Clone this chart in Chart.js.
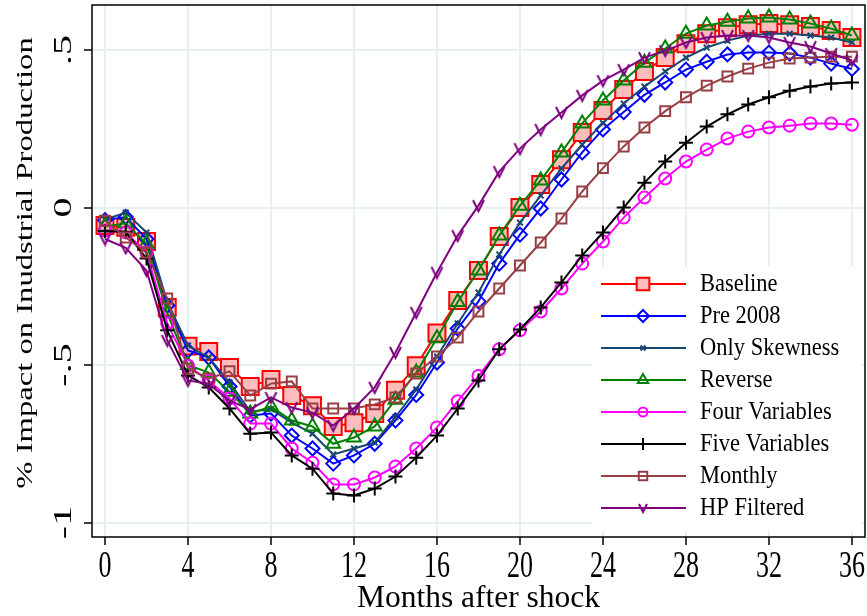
<!DOCTYPE html>
<html><head><meta charset="utf-8">
<script src="https://cdn.jsdelivr.net/npm/chart.js@4/dist/chart.umd.min.js"></script>
<style>html,body{margin:0;padding:0;background:#fff}canvas{display:block}</style>
</head><body>
<canvas id="c" width="867" height="616"></canvas>
<script>
const months = [0,1,2,3,4,5,6,7,8,9,10,11,12,13,14,15,16,17,18,19,20,21,22,23,24,25,26,27,28,29,30,31,32,33,34,35,36];
const xTickValues = [0,4,8,12,16,20,24,28,32,36];
const xTickLabels = ["0","4","8","12","16","20","24","28","32","36"];
const yTickValues = [-1,-0.5,0,0.5];
const yTickLabels = ["-1","-.5","0",".5"];
const xTitle = "Months after shock";
const yTitle = "% Impact on Inudstrial Production";
const seriesNames = ["Baseline","Pre 2008","Only Skewness","Reverse","Four Variables","Five Variables","Monthly","HP Filtered"];

const baseline = [-0.057,-0.063,-0.108,-0.317,-0.44,-0.457,-0.508,-0.568,-0.546,-0.597,-0.629,-0.695,-0.683,-0.654,-0.58,-0.502,-0.398,-0.295,-0.2,-0.092,0.0,0.073,0.152,0.238,0.308,0.375,0.432,0.476,0.52,0.552,0.571,0.58,0.584,0.58,0.575,0.562,0.54];
const pre2008 = [-0.04,-0.03,-0.1,-0.311,-0.454,-0.476,-0.568,-0.66,-0.654,-0.724,-0.765,-0.813,-0.787,-0.75,-0.676,-0.595,-0.492,-0.384,-0.298,-0.178,-0.086,-0.003,0.089,0.175,0.248,0.303,0.358,0.397,0.438,0.463,0.486,0.492,0.492,0.489,0.476,0.457,0.44];
const onlySkewness = [-0.038,-0.016,-0.079,-0.3,-0.438,-0.476,-0.555,-0.648,-0.64,-0.683,-0.718,-0.784,-0.765,-0.746,-0.665,-0.578,-0.473,-0.368,-0.27,-0.149,-0.048,0.038,0.124,0.2,0.268,0.33,0.384,0.432,0.476,0.508,0.53,0.546,0.552,0.552,0.546,0.54,0.524];
const reverse = [-0.06,-0.05,-0.115,-0.335,-0.5,-0.524,-0.585,-0.654,-0.632,-0.676,-0.695,-0.75,-0.73,-0.695,-0.61,-0.524,-0.415,-0.3,-0.2,-0.089,0.006,0.086,0.175,0.267,0.34,0.403,0.46,0.505,0.552,0.578,0.59,0.6,0.603,0.597,0.584,0.568,0.546];
const fourVariables = [-0.073,-0.079,-0.143,-0.368,-0.502,-0.55,-0.606,-0.686,-0.686,-0.765,-0.81,-0.879,-0.879,-0.857,-0.822,-0.765,-0.698,-0.615,-0.535,-0.45,-0.39,-0.33,-0.257,-0.178,-0.108,-0.032,0.032,0.092,0.146,0.184,0.219,0.241,0.254,0.26,0.267,0.267,0.263];
const fiveVariables = [-0.075,-0.077,-0.162,-0.39,-0.533,-0.571,-0.638,-0.718,-0.714,-0.787,-0.829,-0.908,-0.914,-0.892,-0.854,-0.794,-0.724,-0.638,-0.549,-0.45,-0.387,-0.317,-0.238,-0.152,-0.079,0.0,0.079,0.146,0.206,0.257,0.296,0.327,0.35,0.371,0.384,0.394,0.397];
const monthly = [-0.042,-0.095,-0.143,-0.289,-0.511,-0.543,-0.52,-0.597,-0.559,-0.552,-0.638,-0.638,-0.638,-0.625,-0.603,-0.527,-0.473,-0.413,-0.33,-0.257,-0.184,-0.111,-0.035,0.051,0.125,0.194,0.254,0.306,0.35,0.387,0.416,0.441,0.46,0.473,0.476,0.479,0.479];
const hpFiltered = [-0.1,-0.128,-0.2,-0.422,-0.549,-0.56,-0.613,-0.641,-0.603,-0.635,-0.651,-0.692,-0.638,-0.571,-0.46,-0.333,-0.206,-0.089,0.006,0.114,0.187,0.248,0.302,0.356,0.403,0.438,0.476,0.498,0.524,0.54,0.546,0.546,0.54,0.524,0.511,0.489,0.467];

const FONT = '"Liberation Serif", "Times New Roman", serif';

function makeV(size, color, lw) {
  const c = document.createElement('canvas');
  c.width = size; c.height = size;
  const g = c.getContext('2d');
  g.strokeStyle = color; g.lineWidth = lw; g.lineJoin = 'miter';
  g.beginPath();
  g.moveTo(lw, lw);
  g.lineTo(size / 2, size - lw);
  g.lineTo(size - lw, lw);
  g.stroke();
  return c;
}
const vPlot = makeV(15, '#800080', 2);
const vLegend = makeV(12, '#800080', 2);

const styles = [
  {data: baseline, color:'#ff0000', fill:'#ffbcbc', ps:'rect', r:12, lr:9, bw:2},
  {data: pre2008, color:'#0000ff', fill:'rgba(0,0,0,0)', ps:'rectRot', r:7, lr:6, bw:2},
  {data: onlySkewness, color:'#1a476f', fill:'rgba(0,0,0,0)', ps:'crossRot', r:4, lr:3.5, bw:2},
  {data: reverse, color:'#008000', fill:'rgba(0,0,0,0)', ps:'triangle', r:8, lr:6, bw:2},
  {data: fourVariables, color:'#ff00ff', fill:'rgba(0,0,0,0)', ps:'circle', r:6, lr:4.5, bw:2},
  {data: fiveVariables, color:'#000000', fill:'rgba(0,0,0,0)', ps:'cross', r:7, lr:6, bw:2},
  {data: monthly, color:'#983f45', fill:'rgba(0,0,0,0)', ps:'rect', r:7, lr:6, bw:2},
  {data: hpFiltered, color:'#800080', fill:'rgba(0,0,0,0)', ps:vPlot, legendPs:vLegend, r:7, lr:6, bw:2}
];

const datasets = styles.map((s, i) => ({
  label: seriesNames[i],
  data: months.map((m, k) => ({x: m, y: s.data[k]})),
  borderColor: s.color,
  backgroundColor: s.fill,
  pointStyle: s.ps,
  pointRadius: s.r,
  pointBorderColor: s.color,
  pointBackgroundColor: s.fill,
  pointBorderWidth: s.bw,
  borderWidth: 2,
  tension: 0,
  fill: false,
  order: styles.length - 1 - i
}));

function txt(ctx, s, x, y, size, vs, align, base, rot) {
  ctx.save();
  ctx.translate(x, y);
  ctx.scale(1, vs);
  if (rot) ctx.rotate(rot);
  ctx.font = size + 'px ' + FONT;
  ctx.textAlign = align || 'center';
  ctx.textBaseline = base || 'middle';
  ctx.fillStyle = '#000';
  ctx.fillText(s, 0, 0);
  ctx.restore();
}

function marker(ctx, ps, x, y, r, color, fill, lw) {
  if (ps instanceof HTMLCanvasElement) {
    ctx.drawImage(ps, x - ps.width / 2, y - ps.height / 2);
    return;
  }
  ctx.save();
  ctx.strokeStyle = color; ctx.fillStyle = fill; ctx.lineWidth = lw;
  ctx.beginPath();
  if (ps === 'rect') {
    const h = r * Math.SQRT1_2;
    ctx.rect(x - h, y - h, 2 * h, 2 * h);
  } else if (ps === 'rectRot') {
    ctx.moveTo(x - r, y); ctx.lineTo(x, y - r); ctx.lineTo(x + r, y); ctx.lineTo(x, y + r); ctx.closePath();
  } else if (ps === 'triangle') {
    for (let k = 0; k < 3; k++) {
      const a = k * 2 * Math.PI / 3;
      const px = x + Math.sin(a) * r, py = y - Math.cos(a) * r;
      if (k === 0) ctx.moveTo(px, py); else ctx.lineTo(px, py);
    }
    ctx.closePath();
  } else if (ps === 'circle') {
    ctx.arc(x, y, r, 0, Math.PI * 2);
  } else if (ps === 'cross') {
    ctx.moveTo(x - r, y); ctx.lineTo(x + r, y); ctx.moveTo(x, y - r); ctx.lineTo(x, y + r);
  } else if (ps === 'crossRot') {
    const d = r * Math.SQRT1_2;
    ctx.moveTo(x - d, y - d); ctx.lineTo(x + d, y + d); ctx.moveTo(x + d, y - d); ctx.lineTo(x - d, y + d);
  }
  if (ps !== 'cross' && ps !== 'crossRot') ctx.fill();
  ctx.stroke();
  ctx.restore();
}

const decor = {
  id: 'decor',
  afterDraw(chart) {
    const ctx = chart.ctx;
    const a = chart.chartArea;
    const xs = chart.scales.x, ys = chart.scales.y;
    // legend box (inside plot region, bottom right)
    ctx.save();
    ctx.fillStyle = '#ffffff';
    ctx.fillRect(592, 267, 270, 264);
    seriesNames.forEach((n, i) => {
      const s = styles[i];
      const cy = 284 + i * 32;
      ctx.strokeStyle = s.color; ctx.lineWidth = 2;
      ctx.beginPath(); ctx.moveTo(601, cy); ctx.lineTo(686, cy); ctx.stroke();
      marker(ctx, s.legendPs || s.ps, 643, cy, s.lr, s.color, s.fill, 2);
      txt(ctx, n, 700, cy + 7, 22.5, 1.1, 'left', 'alphabetic');
    });
    ctx.restore();
    // plot region frame
    ctx.save();
    ctx.strokeStyle = '#000'; ctx.lineWidth = 1.5;
    ctx.strokeRect(a.left, a.top, a.right - a.left, a.bottom - a.top);
    ctx.restore();
    // x tick labels
    xTickValues.forEach((v, i) => {
      txt(ctx, xTickLabels[i], xs.getPixelForValue(v), 577, 26, 1.42, 'center', 'alphabetic');
    });
    // y tick labels (rotated)
    yTickValues.forEach((v, i) => {
      txt(ctx, yTickLabels[i], 64, ys.getPixelForValue(v), 25, 1.6, 'center', 'middle', -Math.PI / 2);
    });
    // axis titles
    txt(ctx, xTitle, (a.left + a.right) / 2, 607, 31.5, 1.0, 'center', 'alphabetic');
    txt(ctx, yTitle, 26, 263, 24, 1.36, 'center', 'middle', -Math.PI / 2);
  }
};

new Chart(document.getElementById('c'), {
  type: 'line',
  data: { datasets },
  options: {
    responsive: false,
    animation: false,
    devicePixelRatio: 1,
    layout: { autoPadding: false, padding: { top: 5, right: 2, left: 0, bottom: 0 } },
    plugins: { legend: { display: false }, tooltip: { enabled: false } },
    elements: { line: { borderJoinStyle: 'miter' } },
    scales: {
      x: {
        type: 'linear', min: -0.627, max: 36.63,
        afterBuildTicks: s => { s.ticks = xTickValues.map(v => ({ value: v })); },
        afterFit: s => { s.height = 79; },
        ticks: { display: false },
        border: { display: false },
        grid: { color: '#e6eff1', lineWidth: 2, drawTicks: true, tickLength: 8, tickColor: '#000', tickWidth: 1.5 }
      },
      y: {
        type: 'linear', min: -1.046, max: 0.643,
        afterBuildTicks: s => { s.ticks = yTickValues.map(v => ({ value: v })); },
        afterFit: s => { s.width = 92; },
        ticks: { display: false },
        border: { display: false },
        grid: { color: '#e6eff1', lineWidth: 2, drawTicks: true, tickLength: 8, tickColor: '#000', tickWidth: 1.5 }
      }
    }
  },
  plugins: [decor]
});
</script>
</body></html>
